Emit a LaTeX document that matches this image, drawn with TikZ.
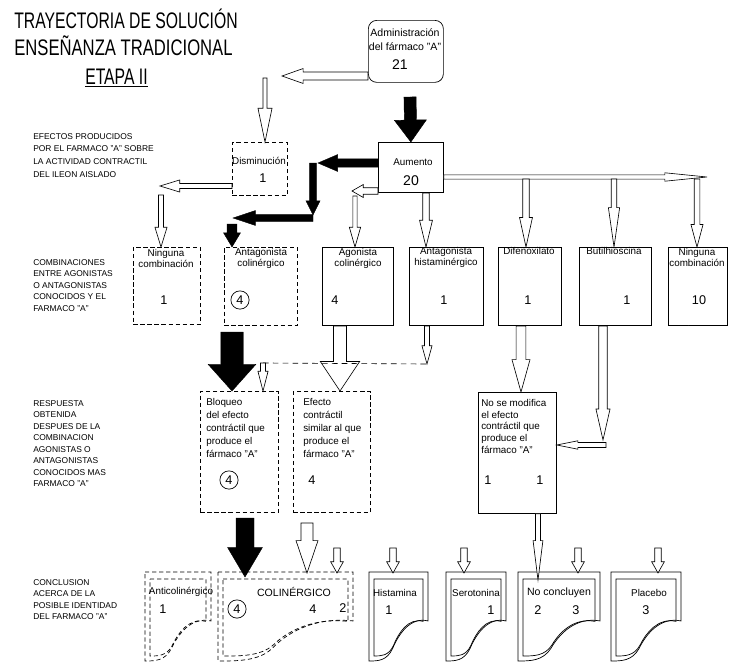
\documentclass[tikz,border=0pt]{standalone}
\usepackage{graphicx}
\usepackage{fontspec}
\setmainfont{Liberation Sans}
\usetikzlibrary{calc,positioning}

\newcommand{\angosto}[1]{\scalebox{0.7}[1]{#1}}
% hoja con borde inferior ondulado: x0, y0, ancho, alto
\newcommand{\hoja}[5][]{%
  \draw[line width=0.5pt,#1] ({#2},{#3}) -- ({(#2)+(#4)},{#3}) -- ({(#2)+(#4)},{(#3)+0.55*(#5)})
    .. controls ({(#2)+0.7*(#4)},{(#3)+0.5*(#5)}) and ({(#2)+0.5*(#4)},{(#3)+0.7*(#5)}) .. ({(#2)+0.4*(#4)},{(#3)+0.86*(#5)})
    .. controls ({(#2)+0.3*(#4)},{(#3)+(#5)}) and ({(#2)+0.15*(#4)},{(#3)+(#5)}) .. ({#2},{(#3)+(#5)}) -- cycle;}
\newcommand{\hojas}[5][]{\hoja[#1]{#2}{#3}{#4}{#5}\hoja[#1]{(#2)+5}{(#3)+7}{(#4)-10}{(#5)-12}}

\tikzset{
  blk/.style n args={3}{to path={
      ($(\tikztostart)!#1!90:(\tikztotarget)$)
   -- ($(\tikztotarget)!#3!(\tikztostart)!#1!90:(\tikztotarget)$)
   -- ($(\tikztotarget)!#3!(\tikztostart)!#2!90:(\tikztotarget)$)
   -- (\tikztotarget)
   -- ($(\tikztotarget)!#3!(\tikztostart)!#2!-90:(\tikztotarget)$)
   -- ($(\tikztotarget)!#3!(\tikztostart)!#1!-90:(\tikztotarget)$)
   -- ($(\tikztostart)!#1!-90:(\tikztotarget)$) -- cycle}},
  hueca/.style={draw, fill=white, line width=0.45pt, line join=miter},
  negra/.style={draw, fill=black, line width=0.3pt},
  doble/.style={double, double distance=1.3pt, line width=0.4pt},
  caja/.style={draw, line width=0.5pt, inner sep=0pt, anchor=north west},
  punteada/.style={caja, dash pattern=on 3pt off 2pt},
  txt/.style={font=\fontsize{7}{7.8}\selectfont, inner sep=0pt, align=center},
  num/.style={font=\fontsize{9}{10}\selectfont, inner sep=0pt},
  circ/.style={circle, draw, line width=0.5pt, inner sep=0pt, minimum size=13pt, font=\fontsize{9}{10}\selectfont},
  nota/.style={font=\fontsize{6}{8.2}\selectfont, align=left, anchor=north west, inner sep=0pt},
  titulo/.style={font=\fontsize{16}{18}\selectfont, anchor=base west, inner sep=0pt},
}

\begin{document}
\begin{tikzpicture}[x=0.025cm, y=-0.025cm]
\useasboundingbox (0,0) rectangle (732,664);

% titulo
\node[titulo] (t1) at (14,28) {\angosto{TRAYECTORIA DE SOLUCIÓN}};
\node[titulo] (t2) at (14,56) {\scalebox{0.74}[1]{ENSEÑANZA TRADICIONAL}};
\node[titulo] (t3) at (85,84) {\angosto{\underline{ETAPA II}}};

% textos de la izquierda
\node[nota, font=\fontsize{6}{9}\selectfont] (n1) at (33,133) {EFECTOS PRODUCIDOS\\POR EL FARMACO "A" SOBRE\\LA ACTIVIDAD CONTRACTIL\\DEL ILEON AISLADO};
\node[nota] (n2) at (33,259) {COMBINACIONES\\ENTRE AGONISTAS\\O ANTAGONISTAS\\CONOCIDOS Y EL\\FARMACO "A"};
\node[nota] (n3) at (33,400) {RESPUESTA\\OBTENIDA\\DESPUES DE LA\\COMBINACION\\AGONISTAS O\\ANTAGONISTAS\\CONOCIDOS MAS\\FARMACO "A"};
\node[nota] (n4) at (33,579) {CONCLUSION\\ACERCA DE LA\\POSIBLE IDENTIDAD\\DEL FARMACO "A"};

% cajas
\node[caja, rounded corners=6pt, minimum width=1.875cm, minimum height=1.55cm] (adm) at (368,20) {};
\node[txt, font=\fontsize{7.5}{8}\selectfont] (adm1) at (405,33) {Administración};
\node[txt, font=\fontsize{7.5}{8}\selectfont] (adm2) at (405,47) {del fármaco "A"};
\node[num, font=\fontsize{10}{11}\selectfont] (adm3) at (400,65) {21};

\node[punteada, minimum width=1.375cm, minimum height=1.325cm] (dis) at (232,142) {};
\node[txt] (dis1) at (259,161) {Disminución};
\node[num] (dis2) at (263,178) {1};

\node[caja, minimum width=1.625cm, minimum height=1.25cm] (aum) at (378,142) {};
\node[txt] (aum1) at (413,162) {Aumento};
\node[num, font=\fontsize{10}{11}\selectfont] (aum2) at (411,181) {20};

\node[punteada, minimum width=1.675cm, minimum height=1.925cm] (nin1) at (133,247) {};
\node[txt] (nin1a) at (166,258) {Ninguna\\combinación};
\node[num] (nin1b) at (164,300) {1};

\node[punteada, minimum width=1.825cm, minimum height=1.95cm] (antc) at (224,247) {};
\node[txt] (antca) at (261,258) {Antagonista\\colinérgico};
\node[circ] (antcb) at (240,300) {4};

\node[caja, minimum width=1.775cm, minimum height=1.95cm] (agon) at (322,247) {};
\node[txt] (agona) at (358,258) {Agonista\\colinérgico};
\node[num] (agonb) at (335,300) {4};

\node[caja, minimum width=1.85cm, minimum height=1.95cm] (anth) at (409,247) {};
\node[txt] (antha) at (446,257) {Antagonista\\histaminérgico};
\node[num] (anthb) at (444,300) {1};

\node[caja, minimum width=1.575cm, minimum height=1.95cm] (dif) at (498,247) {};
\node[txt] (difa) at (529,251) {Difenoxilato};
\node[num] (difb) at (528,300) {1};

\node[caja, minimum width=1.8cm, minimum height=1.95cm] (but) at (579,247) {};
\node[txt] (buta) at (614,251) {Butilhioscina};
\node[num] (butb) at (627,300) {1};

\node[caja, minimum width=1.475cm, minimum height=1.95cm] (nin2) at (668,247) {};
\node[txt] (nin2a) at (697,257) {Ninguna\\combinación};
\node[num] (nin2b) at (699,300) {10};

\node[punteada, minimum width=1.95cm, minimum height=3.025cm] (blo) at (200,391) {};
\node[nota, font=\fontsize{7}{9.2}\selectfont] (bloa) at (206,398) {Bloqueo\\del efecto\\contráctil que\\produce el\\fármaco "A"};
\node[circ] (blob) at (229,480) {4};

\node[punteada, minimum width=1.925cm, minimum height=3.025cm] (efe) at (293,391) {};
\node[nota, font=\fontsize{7}{9.2}\selectfont] (efea) at (303,398) {Efecto\\contráctil\\similar al que\\produce el\\fármaco "A"};
\node[num] (efeb) at (312,480) {4};

\node[caja, minimum width=1.95cm, minimum height=3.025cm] (nomod) at (478,392) {};
\node[nota, font=\fontsize{7}{8.3}\selectfont] (nomoda) at (481,399) {No se modifica\\el efecto\\contráctil que\\produce el\\fármaco "A"};
\node[num] (nomodb) at (488,480) {1};
\node[num] (nomodc) at (540,480) {1};

% conclusiones
\hojas[dash pattern=on 3pt off 2pt]{145}{572}{66}{89}
\hojas[dash pattern=on 3pt off 2pt]{218}{572}{135}{89}
\hojas{369}{572}{59}{89}
\hojas{446}{572}{60}{89}
\hojas{518}{572}{82}{89}
\hojas{611}{572}{70}{89}
\coordinate (anticol) at (165,578);
\coordinate (colin) at (337,573);
\coordinate (hist) at (393,573);
\coordinate (sero) at (464,573);
\coordinate (noc) at (578,573);
\coordinate (plac) at (658,573);

\node[txt] (anticolT) at (181,592) {Anticolinérgico};
\node[num] (anticolN) at (163,609) {1};
\node[txt, font=\fontsize{7.5}{8}\selectfont] (colinT) at (294,592) {COLINÉRGICO};
\node[circ] (colinC) at (237,609) {4};
\node[num] (colinN1) at (313,609) {4};
\node[num] (colinN2) at (343,608) {2};
\node[txt] (histT) at (395,593) {Histamina};
\node[num] (histN) at (389,610) {1};
\node[txt] (seroT) at (476,593) {Serotonina};
\node[num] (seroN) at (491,610) {1};
\node[txt, font=\fontsize{7.5}{8}\selectfont] (nocT) at (559,593) {No concluyen};
\node[num] (nocN1) at (538,610) {2};
\node[num] (nocN2) at (576,610) {3};
\node[txt] (placT) at (649,593) {Placebo};
\node[num] (placN) at (646,610) {3};

% flechas
\coordinate (p1) at (410,97);
\draw[negra, blk={4.3pt}{11.4pt}{15.6pt}] (p1) to (aum.north);
\coordinate (p2) at (282,76);
\draw[hueca, blk={2.8pt}{5.3pt}{15pt}] (adm.west |- p2) to (p2);
\coordinate (p3) at (265,78);
\draw[hueca, blk={1.4pt}{5pt}{24pt}] (p3) to (dis.north -| p3);
\coordinate (p4) at (160,186);
\draw[hueca, blk={1.8pt}{4.3pt}{14pt}] (dis.west |- p4) to (p4);
\coordinate (p5) at (161,195);
\draw[hueca, blk={1.8pt}{4.3pt}{14pt}] (p5) to (nin1.north -| p5);

\coordinate (p6) at (318,163);
\draw[negra, blk={3pt}{6pt}{14pt}] (aum.west |- p6) to (p6);
\coordinate (p7) at (313,215);
\draw[negra, blk={2.5pt}{5pt}{10pt}] (p7 |- p6) to (p7);
\coordinate (p8) at (233,218);
\draw[negra, blk={2.5pt}{5.3pt}{16pt}] (p7 |- p8) to (p8);
\coordinate (p9) at (232,224);
\draw[negra, blk={3.5pt}{6pt}{10pt}] (p9) to (antc.north -| p9);

\coordinate (p10) at (352,191);
\draw[hueca, blk={2.3pt}{4.6pt}{8pt}] (aum.west |- p10) to (p10);
\coordinate (p11) at (355,196);
\draw[hueca, blk={1.5pt}{4pt}{14pt}] (p11) to (agon.north -| p11);
\coordinate (p12) at (426,193);
\draw[hueca, blk={2.3pt}{4.6pt}{19pt}] (p12) to (anth.north -| p12);

\coordinate (p13) at (707,177);
\draw[hueca, blk={1.5pt}{3pt}{30pt}] (aum.east |- p13) to (p13);
\coordinate (p14) at (526,179);
\draw[hueca, blk={2.3pt}{4.6pt}{21pt}] (p14) to (dif.north -| p14);
\coordinate (p15) at (614,179);
\draw[hueca, blk={2pt}{4pt}{28pt}] (p15) to (but.north -| p15);
\coordinate (p16) at (697,179);
\draw[hueca, blk={2pt}{4.3pt}{16pt}] (p16) to (nin2.north -| p16);

\coordinate (p17) at (232,332);
\draw[negra, blk={8pt}{17pt}{19pt}] (p17) to (blo.north -| p17);
\coordinate (p18) at (340,326);
\draw[hueca, blk={4.6pt}{14pt}{21pt}] (p18) to (efe.north -| p18);

\coordinate (p19) at (427,326);
\coordinate (p20) at (427,364);
\draw[hueca, blk={1.8pt}{3.6pt}{13pt}] (p19) to (p20);
\coordinate (p21) at (263,363);
\draw[line width=0.45pt, dash pattern=on 4pt off 3pt] (p21) -- (p20);
\draw[hueca, blk={1.8pt}{3.6pt}{14pt}] (p21) to (blo.north -| p21);

\coordinate (p22) at (521,326);
\draw[hueca, blk={3.5pt}{6.4pt}{23pt}] (p22) to (nomod.north -| p22);
\coordinate (p23) at (603,326);
\coordinate (p24) at (603,440);
\draw[hueca, blk={3pt}{5pt}{22pt}] (p23) to (p24);
\coordinate (p25) at (606,445);
\draw[hueca, blk={1.8pt}{3pt}{15pt}] (p25) to (nomod.east |- p25);

\coordinate (p26) at (245,518);
\coordinate (p27) at (245,577);
\draw[negra, blk={6.4pt}{12.4pt}{21pt}] (p26) to (p27);
\coordinate (p28) at (307,523);
\coordinate (p29) at (307,573);
\draw[hueca, blk={4.3pt}{7.8pt}{23pt}] (p28) to (p29);

\draw[doble] (nin1.south -| anticol) -- (anticol);
\coordinate (p32) at (688,548);
\draw[doble] (nin2.south -| p32) -- (p32) -- (p32 -| colin);
\foreach \c in {colin, hist, sero, noc, plac}
  \draw[hueca, blk={2.3pt}{4.5pt}{8pt}] (p32 -| \c) to (\c);
\coordinate (p30) at (538,580);
\draw[hueca, blk={1.8pt}{3.5pt}{28pt}] (nomod.south -| p30) to (p30);
\end{tikzpicture}
\end{document}
